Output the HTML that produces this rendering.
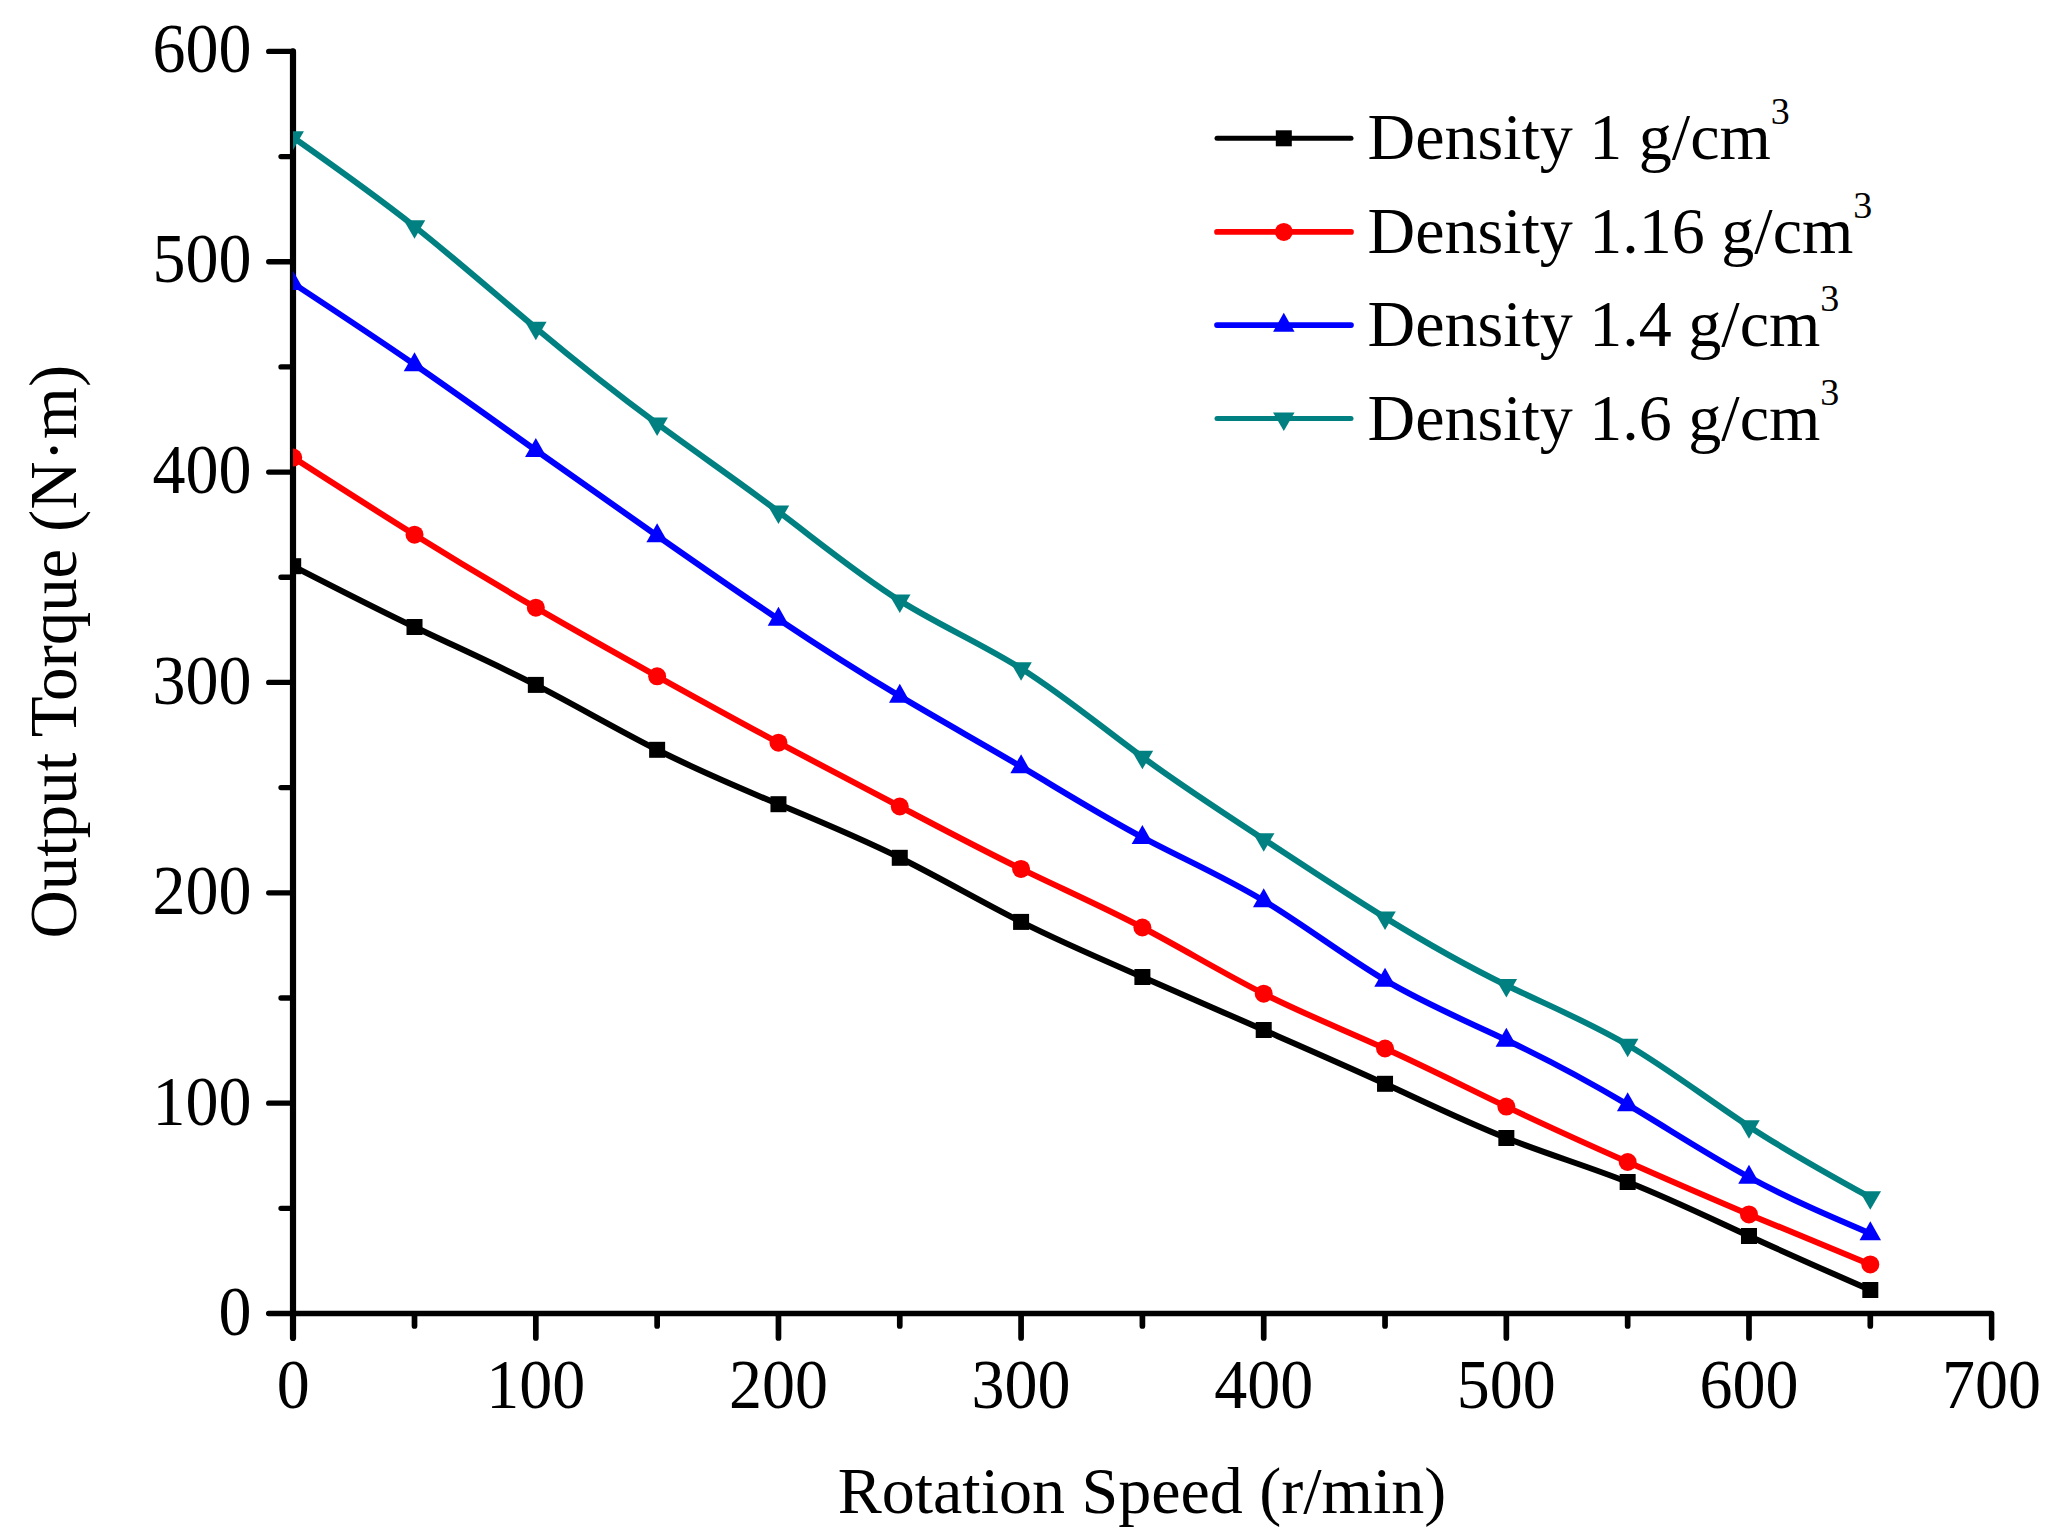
<!DOCTYPE html>
<html lang="en"><head><meta charset="utf-8"><title>Output Torque vs Rotation Speed</title>
<style>html,body{margin:0;padding:0;background:#fff;}body{width:2053px;height:1536px;overflow:hidden;}svg{display:block;}text{font-family:"Liberation Serif","Times New Roman",serif;fill:#000;}</style></head><body>
<svg width="2053" height="1536" viewBox="0 0 2053 1536">
<rect width="2053" height="1536" fill="#fff"/>
<defs><clipPath id="plot"><rect x="293" y="40" width="1720" height="1290"/></clipPath></defs>
<g fill="none" stroke="#000" stroke-linecap="round" stroke-linejoin="round">
<path d="M293 51.40 L293 1338" stroke-width="6.2"/>
<path d="M268.7 51.40 H293" stroke-width="5.3"/>
<path d="M268.7 1313.5 L1991.61 1313.5 L1991.61 1338" stroke-width="5.5"/>
<path d="M281.0 1208.33 H293 M268.7 1103.15 H293 M281.0 997.98 H293 M268.7 892.80 H293 M281.0 787.62 H293 M268.7 682.45 H293 M281.0 577.27 H293 M268.7 472.10 H293 M281.0 366.93 H293 M268.7 261.75 H293 M281.0 156.58 H293" stroke-width="5.3"/>
<path d="M414.51 1315 V1326.0 M535.83 1315 V1338.0 M657.14 1315 V1326.0 M778.46 1315 V1338.0 M899.77 1315 V1326.0 M1021.09 1315 V1338.0 M1142.40 1315 V1326.0 M1263.72 1315 V1338.0 M1385.04 1315 V1326.0 M1506.35 1315 V1338.0 M1627.66 1315 V1326.0 M1748.98 1315 V1338.0 M1870.30 1315 V1326.0" stroke-width="5.7"/>
</g>
<g font-size="66">
<text transform="translate(251.5 1335.0) scale(1 1.055)" text-anchor="end">0</text>
<text transform="translate(251.5 1124.5) scale(1 1.055)" text-anchor="end">100</text>
<text transform="translate(251.5 914.0) scale(1 1.055)" text-anchor="end">200</text>
<text transform="translate(251.5 703.5) scale(1 1.055)" text-anchor="end">300</text>
<text transform="translate(251.5 492.9) scale(1 1.055)" text-anchor="end">400</text>
<text transform="translate(251.5 282.4) scale(1 1.055)" text-anchor="end">500</text>
<text transform="translate(251.5 71.9) scale(1 1.055)" text-anchor="end">600</text>
<text transform="translate(293.2 1408.3) scale(1 1.055)" text-anchor="middle">0</text>
<text transform="translate(535.8 1408.3) scale(1 1.055)" text-anchor="middle">100</text>
<text transform="translate(778.5 1408.3) scale(1 1.055)" text-anchor="middle">200</text>
<text transform="translate(1021.1 1408.3) scale(1 1.055)" text-anchor="middle">300</text>
<text transform="translate(1263.7 1408.3) scale(1 1.055)" text-anchor="middle">400</text>
<text transform="translate(1506.3 1408.3) scale(1 1.055)" text-anchor="middle">500</text>
<text transform="translate(1749.0 1408.3) scale(1 1.055)" text-anchor="middle">600</text>
<text transform="translate(1991.6 1408.3) scale(1 1.055)" text-anchor="middle">700</text>
<text x="1142" y="1513" text-anchor="middle">Rotation Speed (r/min)</text>
<text transform="translate(76 651.7) rotate(-90)" text-anchor="middle" font-size="66.9">Output Torque (N·m)</text>
</g>
<g clip-path="url(#plot)">
<path d="M293.20 566.20 C333.64 586.95 374.08 607.71 414.51 627.00 C454.95 646.29 495.39 664.13 535.83 684.90 C576.27 705.67 616.71 729.39 657.14 749.80 C697.58 770.21 738.02 787.33 778.46 804.20 C818.90 821.07 859.34 837.69 899.77 857.80 C940.21 877.91 980.65 901.50 1021.09 921.90 C1061.53 942.30 1101.97 959.49 1142.40 977.00 C1182.84 994.51 1223.28 1012.33 1263.72 1030.00 C1304.16 1047.67 1344.60 1065.20 1385.04 1083.80 C1425.47 1102.40 1465.91 1122.07 1506.35 1138.00 C1546.79 1153.93 1587.23 1166.14 1627.66 1182.00 C1668.10 1197.86 1708.54 1217.39 1748.98 1236.00 C1789.42 1254.61 1829.86 1272.31 1870.30 1290.00" fill="none" stroke="#000000" stroke-width="6" stroke-linejoin="round"/>
<rect x="285.20" y="558.20" width="16" height="16" fill="#000000"/><rect x="406.51" y="619.00" width="16" height="16" fill="#000000"/><rect x="527.83" y="676.90" width="16" height="16" fill="#000000"/><rect x="649.14" y="741.80" width="16" height="16" fill="#000000"/><rect x="770.46" y="796.20" width="16" height="16" fill="#000000"/><rect x="891.77" y="849.80" width="16" height="16" fill="#000000"/><rect x="1013.09" y="913.90" width="16" height="16" fill="#000000"/><rect x="1134.40" y="969.00" width="16" height="16" fill="#000000"/><rect x="1255.72" y="1022.00" width="16" height="16" fill="#000000"/><rect x="1377.04" y="1075.80" width="16" height="16" fill="#000000"/><rect x="1498.35" y="1130.00" width="16" height="16" fill="#000000"/><rect x="1619.66" y="1174.00" width="16" height="16" fill="#000000"/><rect x="1740.98" y="1228.00" width="16" height="16" fill="#000000"/><rect x="1862.30" y="1282.00" width="16" height="16" fill="#000000"/>
<path d="M293.20 457.60 C333.64 483.57 374.08 509.54 414.51 534.70 C454.95 559.86 495.39 584.21 535.83 607.70 C576.27 631.19 616.71 653.83 657.14 676.30 C697.58 698.77 738.02 721.08 778.46 742.70 C818.90 764.32 859.34 785.27 899.77 806.50 C940.21 827.73 980.65 849.26 1021.09 868.90 C1061.53 888.54 1101.97 906.30 1142.40 927.50 C1182.84 948.70 1223.28 973.32 1263.72 993.70 C1304.16 1014.08 1344.60 1030.20 1385.04 1048.50 C1425.47 1066.80 1465.91 1087.27 1506.35 1106.60 C1546.79 1125.93 1587.23 1144.14 1627.66 1162.00 C1668.10 1179.86 1708.54 1197.39 1748.98 1214.40 C1789.42 1231.41 1829.86 1247.91 1870.30 1264.40" fill="none" stroke="#ff0000" stroke-width="6" stroke-linejoin="round"/>
<circle cx="293.20" cy="457.60" r="9" fill="#ff0000"/><circle cx="414.51" cy="534.70" r="9" fill="#ff0000"/><circle cx="535.83" cy="607.70" r="9" fill="#ff0000"/><circle cx="657.14" cy="676.30" r="9" fill="#ff0000"/><circle cx="778.46" cy="742.70" r="9" fill="#ff0000"/><circle cx="899.77" cy="806.50" r="9" fill="#ff0000"/><circle cx="1021.09" cy="868.90" r="9" fill="#ff0000"/><circle cx="1142.40" cy="927.50" r="9" fill="#ff0000"/><circle cx="1263.72" cy="993.70" r="9" fill="#ff0000"/><circle cx="1385.04" cy="1048.50" r="9" fill="#ff0000"/><circle cx="1506.35" cy="1106.60" r="9" fill="#ff0000"/><circle cx="1627.66" cy="1162.00" r="9" fill="#ff0000"/><circle cx="1748.98" cy="1214.40" r="9" fill="#ff0000"/><circle cx="1870.30" cy="1264.40" r="9" fill="#ff0000"/>
<path d="M293.20 283.40 C333.64 310.01 374.08 336.62 414.51 364.50 C454.95 392.38 495.39 421.54 535.83 450.30 C576.27 479.06 616.71 507.42 657.14 535.70 C697.58 563.98 738.02 592.18 778.46 619.20 C818.90 646.22 859.34 672.05 899.77 696.20 C940.21 720.35 980.65 742.82 1021.09 766.70 C1061.53 790.58 1101.97 815.86 1142.40 837.30 C1182.84 858.74 1223.28 876.32 1263.72 900.70 C1304.16 925.08 1344.60 956.25 1385.04 980.20 C1425.47 1004.15 1465.91 1020.87 1506.35 1040.00 C1546.79 1059.13 1587.23 1080.65 1627.66 1104.70 C1668.10 1128.75 1708.54 1155.31 1748.98 1177.20 C1789.42 1199.09 1829.86 1216.29 1870.30 1233.50" fill="none" stroke="#0000ff" stroke-width="6" stroke-linejoin="round"/>
<polygon points="282.45,290.07 303.95,290.07 293.20,271.07" fill="#0000ff"/><polygon points="403.76,371.17 425.26,371.17 414.51,352.17" fill="#0000ff"/><polygon points="525.08,456.97 546.58,456.97 535.83,437.97" fill="#0000ff"/><polygon points="646.39,542.37 667.89,542.37 657.14,523.37" fill="#0000ff"/><polygon points="767.71,625.87 789.21,625.87 778.46,606.87" fill="#0000ff"/><polygon points="889.02,702.87 910.52,702.87 899.77,683.87" fill="#0000ff"/><polygon points="1010.34,773.37 1031.84,773.37 1021.09,754.37" fill="#0000ff"/><polygon points="1131.65,843.97 1153.15,843.97 1142.40,824.97" fill="#0000ff"/><polygon points="1252.97,907.37 1274.47,907.37 1263.72,888.37" fill="#0000ff"/><polygon points="1374.29,986.87 1395.79,986.87 1385.04,967.87" fill="#0000ff"/><polygon points="1495.60,1046.67 1517.10,1046.67 1506.35,1027.67" fill="#0000ff"/><polygon points="1616.91,1111.37 1638.41,1111.37 1627.66,1092.37" fill="#0000ff"/><polygon points="1738.23,1183.87 1759.73,1183.87 1748.98,1164.87" fill="#0000ff"/><polygon points="1859.55,1240.17 1881.05,1240.17 1870.30,1221.17" fill="#0000ff"/>
<path d="M293.20 137.50 C333.64 165.97 374.08 194.45 414.51 226.50 C454.95 258.55 495.39 294.18 535.83 328.00 C576.27 361.82 616.71 393.84 657.14 423.70 C697.58 453.56 738.02 481.25 778.46 511.70 C818.90 542.15 859.34 575.35 899.77 600.60 C940.21 625.85 980.65 643.15 1021.09 668.50 C1061.53 693.85 1101.97 727.26 1142.40 757.00 C1182.84 786.74 1223.28 812.82 1263.72 839.30 C1304.16 865.78 1344.60 892.67 1385.04 917.60 C1425.47 942.53 1465.91 965.51 1506.35 985.20 C1546.79 1004.89 1587.23 1021.28 1627.66 1045.00 C1668.10 1068.72 1708.54 1099.78 1748.98 1126.40 C1789.42 1153.02 1829.86 1175.21 1870.30 1197.40" fill="none" stroke="#008080" stroke-width="6" stroke-linejoin="round"/>
<polygon points="282.45,131.33 303.95,131.33 293.20,149.83" fill="#008080"/><polygon points="403.76,220.33 425.26,220.33 414.51,238.83" fill="#008080"/><polygon points="525.08,321.83 546.58,321.83 535.83,340.33" fill="#008080"/><polygon points="646.39,417.53 667.89,417.53 657.14,436.03" fill="#008080"/><polygon points="767.71,505.53 789.21,505.53 778.46,524.03" fill="#008080"/><polygon points="889.02,594.43 910.52,594.43 899.77,612.93" fill="#008080"/><polygon points="1010.34,662.33 1031.84,662.33 1021.09,680.83" fill="#008080"/><polygon points="1131.65,750.83 1153.15,750.83 1142.40,769.33" fill="#008080"/><polygon points="1252.97,833.13 1274.47,833.13 1263.72,851.63" fill="#008080"/><polygon points="1374.29,911.43 1395.79,911.43 1385.04,929.93" fill="#008080"/><polygon points="1495.60,979.03 1517.10,979.03 1506.35,997.53" fill="#008080"/><polygon points="1616.91,1038.83 1638.41,1038.83 1627.66,1057.33" fill="#008080"/><polygon points="1738.23,1120.23 1759.73,1120.23 1748.98,1138.73" fill="#008080"/><polygon points="1859.55,1191.23 1881.05,1191.23 1870.30,1209.73" fill="#008080"/>
</g>
<g>
<line x1="1217" y1="138.3" x2="1351" y2="138.3" stroke="#000000" stroke-width="5" stroke-linecap="round"/>
<rect x="1275.80" y="130.30" width="16" height="16" fill="#000000"/>
<text x="1367.5" y="159.0" font-size="66">Density 1 g/cm<tspan font-size="38" dy="-34.7">3</tspan></text>
<line x1="1217" y1="231.9" x2="1351" y2="231.9" stroke="#ff0000" stroke-width="5.7" stroke-linecap="round"/>
<circle cx="1283.80" cy="231.90" r="9" fill="#ff0000"/>
<text x="1367.5" y="252.5" font-size="66">Density 1.16 g/cm<tspan font-size="38" dy="-34.7">3</tspan></text>
<line x1="1217" y1="325.1" x2="1351" y2="325.1" stroke="#0000ff" stroke-width="5.7" stroke-linecap="round"/>
<polygon points="1273.05,331.77 1294.55,331.77 1283.80,312.77" fill="#0000ff"/>
<text x="1367.5" y="345.5" font-size="66">Density 1.4 g/cm<tspan font-size="38" dy="-34.7">3</tspan></text>
<line x1="1217" y1="418.6" x2="1351" y2="418.6" stroke="#008080" stroke-width="5" stroke-linecap="round"/>
<polygon points="1273.05,412.43 1294.55,412.43 1283.80,430.93" fill="#008080"/>
<text x="1367.5" y="439.5" font-size="66">Density 1.6 g/cm<tspan font-size="38" dy="-34.7">3</tspan></text>
</g>
</svg></body></html>
